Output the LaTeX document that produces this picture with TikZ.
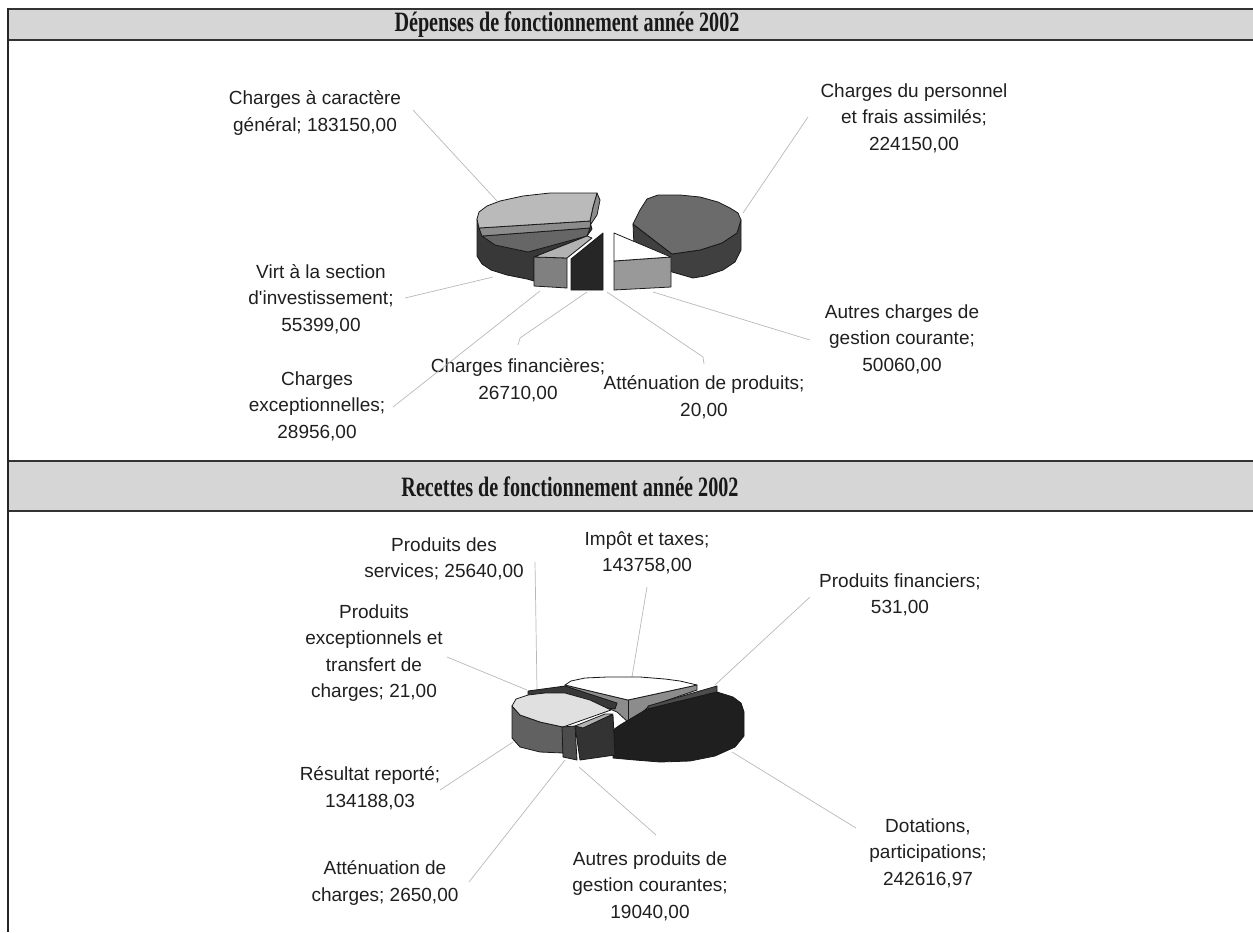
\documentclass[tikz,border=0pt]{standalone}
\usepackage{fontspec}
\setmainfont{Liberation Sans}
\newfontfamily\titlefont{Liberation Serif}
\begin{document}
\begin{tikzpicture}[x=1pt,y=-1pt,
  lbl/.style={align=center,font=\fontsize{19}{26.5}\selectfont,inner sep=0pt,text=black!88},
  ttl/.style={font=\titlefont\bfseries\fontsize{28}{32}\selectfont,inner sep=0pt,text=black!90},
  lead/.style={draw=black!28,line width=0.7pt},
  pie/.style={draw=black!90,line width=0.8pt,line join=round},
  bandfill/.style={fill=black!16},
  bandline/.style={draw=black!80,line width=1.6pt}]
\useasboundingbox (0,0) rectangle (1253,932);
% header bands
\path[bandfill] (8,8) rectangle (1253,41);
\draw[bandline] (8,8.8) -- (1253,8.8);
\draw[bandline] (8,40.2) -- (1253,40.2);
\path[bandfill] (8,460) rectangle (1253,512);
\draw[bandline] (8,460.8) -- (1253,460.8);
\draw[bandline] (8,511.2) -- (1253,511.2);
\draw[line width=1.6pt,draw=black!85] (8,8) -- (8,932);
\node[ttl] (t1) at (567,25) {\scalebox{0.72}[1]{Dépenses de fonctionnement année 2002}};
\node[ttl] (t2) at (570,487) {\scalebox{0.72}[1]{Recettes de fonctionnement année 2002}};

% ---------- labels, Dépenses
\node[lbl] (gen) at (315,113) {Charges à caractère\\général; 183150,00};
\node[lbl] (pers) at (914,118) {Charges du personnel\\et frais assimilés;\\224150,00};
\node[lbl] (virt) at (321,299) {Virt à la section\\d\textquotesingle investissement;\\55399,00};
\node[lbl] (exc) at (317,406) {Charges\\exceptionnelles;\\28956,00};
\node[lbl] (fin) at (518,380) {Charges financières;\\26710,00};
\node[lbl] (att) at (704,397) {Atténuation de produits;\\20,00};
\node[lbl] (aut) at (902,339) {Autres charges de\\gestion courante;\\50060,00};
% ---------- labels, Recettes
\node[lbl] (serv) at (444,559) {Produits des\\services; 25640,00};
\node[lbl] (imp) at (647,553) {Impôt et taxes;\\143758,00};
\node[lbl] (pfin) at (900,595) {Produits financiers;\\531,00};
\node[lbl] (pexc) at (374,653) {Produits\\exceptionnels et\\transfert de\\charges; 21,00};
\node[lbl] (res) at (370,788) {Résultat reporté;\\134188,03};
\node[lbl] (attc) at (385,883) {Atténuation de\\charges; 2650,00};
\node[lbl] (apg) at (650,886) {Autres produits de\\gestion courantes;\\19040,00};
\node[lbl] (dot) at (928,853) {Dotations,\\participations;\\242616,97};

% ---------- leader end points
\coordinate (gen-e) at (413,110);   \coordinate (gen-p) at (497,201);
\coordinate (pers-e) at (808,117);  \coordinate (pers-p) at (743,213);
\coordinate (virt-e) at (405,298);  \coordinate (virt-p) at (493,277);
\coordinate (exc-e) at (393,407);   \coordinate (exc-p) at (540,291);
\coordinate (fin-e) at (518,345);   \coordinate (fin-k) at (520,338); \coordinate (fin-p) at (587,292);
\coordinate (att-e) at (704,364);   \coordinate (att-k) at (703,357); \coordinate (att-p) at (607,292);
\coordinate (aut-e) at (810,340);   \coordinate (aut-p) at (653,292);
\coordinate (serv-e) at (535,562);  \coordinate (serv-p) at (537,690);
\coordinate (imp-e) at (647,587);   \coordinate (imp-p) at (632,677);
\coordinate (pfin-e) at (810,597);  \coordinate (pfin-p) at (715,685);
\coordinate (pexc-e) at (447,657);  \coordinate (pexc-p) at (527,690);
\coordinate (res-e) at (440,790);   \coordinate (res-p) at (513,742);
\coordinate (attc-e) at (469,882);  \coordinate (attc-p) at (565,760);
\coordinate (apg-e) at (656,835);   \coordinate (apg-p) at (579,767);
\coordinate (dot-e) at (856,828);   \coordinate (dot-p) at (732,752);

\draw[lead] (gen-e) -- (gen-p);
\draw[lead] (pers-e) -- (pers-p);
\draw[lead] (virt-e) -- (virt-p);
\draw[lead] (exc-e) -- (exc-p);
\draw[lead] (fin-e) -- (fin-k) -- (fin-p);
\draw[lead] (att-e) -- (att-k) -- (att-p);
\draw[lead] (aut-e) -- (aut-p);
\draw[lead] (serv-e) -- (serv-p);
\draw[lead] (imp-e) -- (imp-p);
\draw[lead] (pfin-e) -- (pfin-p);
\draw[lead] (pexc-e) -- (pexc-p);
\draw[lead] (res-e) -- (res-p);
\draw[lead] (attc-e) -- (attc-p);
\draw[lead] (apg-e) -- (apg-p);
\draw[lead] (dot-e) -- (dot-p);

% ---------- Dépenses pie
% personnel
\path[pie,fill=black!75] (633,224) -- (672,254) -- (700,250) -- (722,243) -- (737,233) -- (741,220) -- (741,250) -- (735,262) -- (723,270) -- (705,276) -- (693,278) -- (672,272) -- (634,246) -- cycle;
\path[pie,fill=black!58] (633,224) -- (640,210) -- (647,199) -- (658,195) -- (680,195) -- (700,197) -- (718,202) -- (730,208) -- (738,213) -- (741,220) -- (737,233) -- (722,243) -- (700,250) -- (672,254) -- cycle;
% autres charges
\path[pie,fill=black!40] (614,261) -- (671,257) -- (671,287) -- (614,290) -- cycle;
\path[pie,fill=white] (614,233) -- (671,257) -- (614,261) -- cycle;
% left group (charges générales + virement)
\path[pie,fill=black!78] (477,219) -- (477,256) -- (482,264) -- (491,270) -- (507,275) -- (527,279) -- (534,281) -- (534,257) -- (587,236) -- (592,229) -- (590,222) -- (483,229) -- cycle;
\path[pie,fill=black!60] (482,236) -- (590,228) -- (587,236) -- (528,252) -- (495,245) -- cycle;
\path[pie,fill=black!45] (479,228) -- (591,221) -- (590,228) -- (482,236) -- cycle;
\path[pie,fill=black!45] (597,193) -- (600,200) -- (597,215) -- (591,224) -- (590,221) -- (593,207) -- cycle;
\path[pie,fill=black!27] (477,219) -- (479,212) -- (487,206) -- (500,201) -- (523,196) -- (550,193) -- (597,193) -- (593,207) -- (590,221) -- (479,228) -- cycle;
% exceptionnelles
\path[pie,fill=black!50] (534,257) -- (567,258) -- (567,288) -- (534,286) -- cycle;
\path[pie,fill=black!30] (534,257) -- (587,236) -- (592,238) -- (567,258) -- cycle;
% financières
\path[pie,fill=black!85] (571,259) -- (603,233) -- (603,290) -- (571,290) -- cycle;

% ---------- Recettes pie
% impôt et taxes
\path[pie,fill=black!45] (565,685) -- (628,700) -- (697,685) -- (697,690) -- (648,707) -- (633,722) -- (628,722) -- (617,712) -- (565,690) -- cycle;
\path[pie,fill=white] (565,685) -- (571,681) -- (585,678) -- (607,677) -- (640,677) -- (665,679) -- (680,681) -- (697,685) -- (628,700) -- cycle;
\draw[pie] (628,700) -- (628,722);
% produits financiers
\path[pie,fill=black!70] (648,706) -- (717,686) -- (717,692) -- (648,711) -- cycle;
% dotations
\path[pie,fill=black!88] (620,725) -- (647,709) -- (717,692) -- (733,697) -- (741,703) -- (744,712) -- (744,736) -- (735,747) -- (715,756) -- (690,761) -- (660,762) -- (635,760) -- (613,758) -- (613,730) -- cycle;
% services / exceptionnels strip
\path[pie,fill=black!78] (528,691) -- (565,686) -- (617,703) -- (615,709) -- (528,697) -- cycle;
% résultat reporté
\path[pie,fill=black!62] (512,706) -- (520,715) -- (540,722) -- (563,727) -- (563,753) -- (540,752) -- (520,747) -- (512,738) -- cycle;
\path[pie,fill=black!12] (512,706) -- (516,699) -- (528,695) -- (545,693) -- (565,693) -- (590,700) -- (611,710) -- (563,727) -- (540,722) -- (520,715) -- cycle;
% autres produits / atténuation
\path[pie,fill=black!80] (575,726) -- (613,715) -- (615,755) -- (580,760) -- cycle;
\path[pie,fill=black!70] (562,727) -- (575,726) -- (577,760) -- (563,757) -- cycle;
\path[pie,fill=black!30] (575,726) -- (605,714) -- (613,714) -- (583,728) -- cycle;
\end{tikzpicture}
\end{document}
